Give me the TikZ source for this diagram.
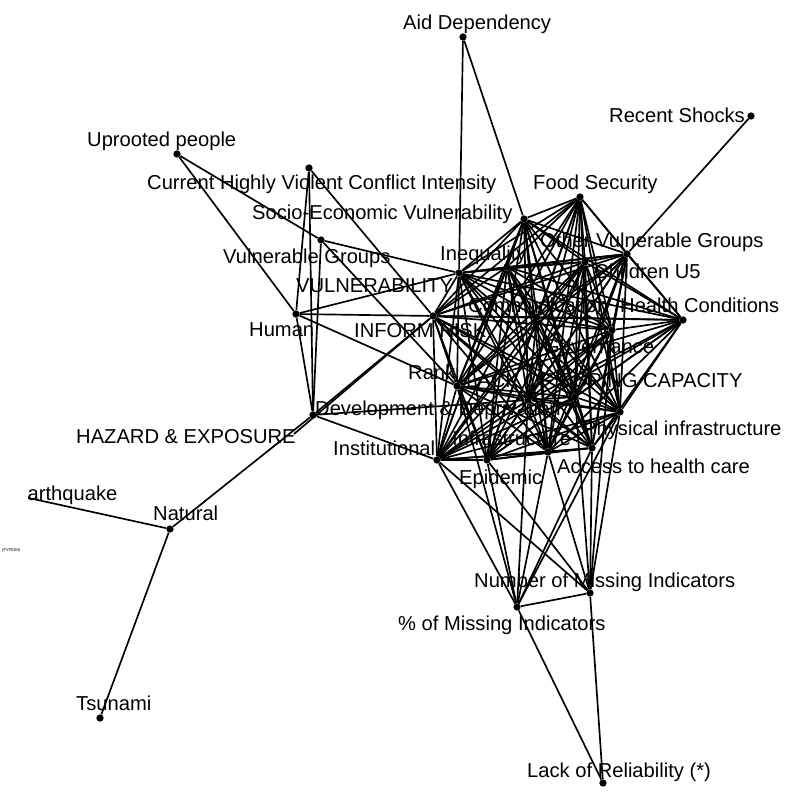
\documentclass[tikz,border=0pt]{standalone}
\usepackage{fontspec}
\setmainfont{Liberation Sans}
\definecolor{r0g0b0}{rgb}{0.000000,0.000000,0.000000}%
\tikzset{
  pt/.style={circle, fill=r0g0b0, inner sep=0pt, minimum size=0.22cm},
  lbl/.style={anchor=base west, inner sep=0pt, text=r0g0b0, font=\fontsize{17.2}{20}\selectfont},
  seg/.style={draw=r0g0b0, line width=0.05cm},
}
\begin{document}
\begin{tikzpicture}[x=0.03cm, y=-0.03cm]
\useasboundingbox (0,0) rectangle (794,793);

% Marking points by dots
\node[pt] (aid)    at (463,37)  {};
\node[pt] (shock)  at (751,116) {};
\node[pt] (food)   at (580,197) {};
\node[pt] (uproot) at (177,154) {};
\node[pt] (conf)   at (309,168) {};
\node[pt] (soc)    at (524,219) {};
\node[pt] (vgrp)   at (321,240) {};
\node[pt] (vuln)   at (459,273) {};
\node[pt] (ineq)   at (507,267) {};
\node[pt] (ovg)    at (627,254) {};
\node[pt] (cu5)    at (585,262) {};
\node[pt] (comm)   at (537,317) {};
\node[pt] (hlth)   at (683,320) {};
\node[pt] (risk)   at (433,316) {};
\node[pt] (human)  at (296,314) {};
\node[pt] (gov)    at (612,330) {};
\node[pt] (rank)   at (457,386) {};
\node[pt] (lcc)    at (528,400) {};
\node[pt] (drr)    at (575,397) {};
\node[pt] (devel)  at (313,415) {};
\coordinate (haz)  at (294,434);
\node[pt] (inst)   at (437,460) {};
\node[pt] (epid)   at (487,460) {};
\node[pt] (infra)  at (548,452) {};
\node[pt] (phys)   at (620,412) {};
\node[pt] (acc)    at (592,448) {};
\node[pt] (nat)    at (170,529) {};
\node[pt] (tsun)   at (100,718) {};
\node[pt] (nmiss)  at (590,593) {};
\node[pt] (pmiss)  at (517,607) {};
\node[pt] (relia)  at (603,783) {};

% Marking labels
\node[lbl] (aid-t)    at (403,30)  {Aid Dependency};
\node[lbl] (shock-t)  at (609,123) {Recent Shocks};
\node[lbl] (food-t)   at (533,190) {Food Security};
\node[lbl] (uproot-t) at (87,147)  {Uprooted people};
\node[lbl] (conf-t)   at (147,190) {Current Highly Violent Conflict Intensity};
\node[lbl] (soc-t)    at (252,219) {Socio-Economic Vulnerability};
\node[lbl] (vgrp-t)   at (223,263) {Vulnerable Groups};
\node[lbl] (vuln-t)   at (296,292) {VULNERABILITY};
\node[lbl] (ineq-t)   at (440,260) {Inequality};
\node[lbl] (ovg-t)    at (540,247) {Other Vulnerable Groups};
\node[lbl] (cu5-t)    at (594,278) {Children U5};
\node[lbl] (comm-t)   at (468,312) {Communication};
\node[lbl] (hlth-t)   at (620,312) {Health Conditions};
\node[lbl] (risk-t)   at (354,337) {INFORM RISK};
\node[lbl] (human-t)  at (249,336) {Human};
\node[lbl] (gov-t)    at (544,353) {Governance};
\node[lbl] (rank-t)   at (408,379) {Rank};
\node[lbl] (lcc-t)    at (466,387) {LACK OF COPING CAPACITY};
\node[lbl] (devel-t)  at (315,415) {Development \& Deprivation};
\node[lbl] (haz-t)    at (76,443)  {HAZARD \& EXPOSURE};
\node[lbl] (inst-t)   at (333,455) {Institutional};
\node[lbl] (infra-t)  at (452,445) {Infrastructure};
\node[lbl] (phys-t)   at (583,435) {Physical infrastructure};
\node[lbl] (acc-t)    at (557,473) {Access to health care};
\node[lbl] (epid-t)   at (459,484) {Epidemic};
\node[lbl] (nat-t)    at (153,520) {Natural};
\node[lbl] (tsun-t)   at (76,710)  {Tsunami};
\node[lbl] (nmiss-t)  at (474,587) {Number of Missing Indicators};
\node[lbl] (pmiss-t)  at (398,630) {\% of Missing Indicators};
\node[lbl] (relia-t)  at (527,777) {Lack of Reliability (*)};
\node[lbl, font=\fontsize{3.6}{4}\selectfont] (fyrom-t) at (2,551) {(FYROM)};

% Earthquake, cut by the left margin
\begin{scope}
  \clip (28,0) rectangle (794,793);
  \node[pt] (quake) at (15,495) {};
  \node[lbl] (quake-t) at (14,500) {Earthquake};
  \draw[seg] (nat) -- (quake);
\end{scope}

% Drawing segments of the dense block
\foreach \a [count=\i] in {soc,food,ovg,cu5,ineq,vuln,risk,comm,gov,hlth,rank,lcc,drr,phys,acc,infra,epid,inst}
  \foreach \b [count=\j] in {soc,food,ovg,cu5,ineq,vuln,risk,comm,gov,hlth,rank,lcc,drr,phys,acc,infra,epid,inst}
    {\ifnum\j>\i \draw[seg] (\a) -- (\b); \fi}

% Drawing the other segments
\foreach \a/\b in {aid/vuln, aid/soc, shock/ovg, uproot/human, uproot/vgrp,
  conf/human, conf/devel, conf/risk, vgrp/vuln, vgrp/devel, vgrp/rank,
  human/devel, human/vuln, human/risk, human/rank,
  devel/nat, devel/risk, devel/inst, devel/lcc, haz/risk, nat/tsun,
  relia/pmiss, relia/nmiss, nmiss/pmiss,
  pmiss/inst, pmiss/epid, pmiss/lcc, pmiss/infra, pmiss/acc, pmiss/phys, pmiss/rank,
  nmiss/inst, nmiss/epid, nmiss/drr, nmiss/infra, nmiss/acc, nmiss/phys, nmiss/gov}
  \draw[seg] (\a) -- (\b);
\end{tikzpicture}
\end{document}
